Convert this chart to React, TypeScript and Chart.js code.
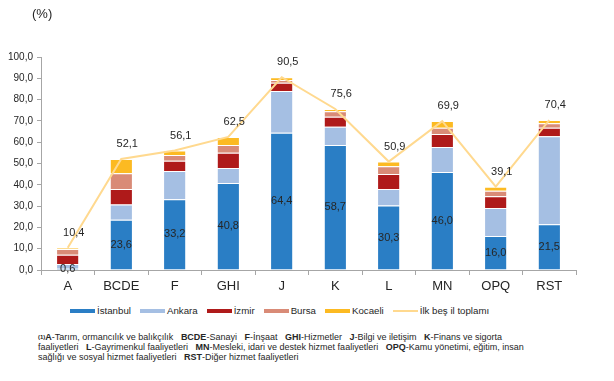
import React, { useEffect, useRef } from "react";
import { Chart, registerables } from "chart.js";

Chart.register(...registerables);

const categories = ["A", "BCDE", "F", "GHI", "J", "K", "L", "MN", "OPQ", "RST"];
const istanbul = [0.6, 23.6, 33.2, 40.8, 64.4, 58.7, 30.3, 46.0, 16.0, 21.5];
const ankara = [2.2, 7.2, 13.3, 7.1, 19.6, 8.6, 7.7, 11.8, 13.1, 41.3];
const izmir = [4.4, 7.2, 4.8, 7.2, 3.9, 4.7, 7.1, 6.0, 5.5, 4.0];
const bursa = [2.7, 7.4, 2.7, 3.6, 1.3, 2.5, 3.6, 3.0, 2.6, 2.1];
const kocaeli = [0.5, 6.7, 2.1, 3.8, 1.3, 1.1, 2.2, 3.1, 1.9, 1.5];
const totals = [10.4, 52.1, 56.1, 62.5, 90.5, 75.6, 50.9, 69.9, 39.1, 70.4];

const seriesNames = ["İstanbul", "Ankara", "İzmir", "Bursa", "Kocaeli", "İlk beş il toplamı"];
const colors = ["#2A7EC5", "#A5BFE3", "#AF1A1A", "#D98B77", "#FCBA22", "#FFD98F"];

const fmt = (v: number) => v.toFixed(1).replace(".", ",");
const FONT = "'Liberation Sans', Arial, sans-serif";

const labelPlugin = {
  id: "labelPlugin",
  afterDatasetsDraw(chart: any) {
    const ctx = chart.ctx;
    ctx.save();
    ctx.font = `11px ${FONT}`;
    ctx.fillStyle = "#262626";
    ctx.textAlign = "center";
    ctx.textBaseline = "middle";
    const m0 = chart.getDatasetMeta(0);
    m0.data.forEach((el: any, i: number) => {
      ctx.fillText(fmt(istanbul[i]), el.x, (el.y + el.base) / 2);
    });
    const m5 = chart.getDatasetMeta(5);
    m5.data.forEach((pt: any, i: number) => {
      ctx.fillText(fmt(totals[i]), pt.x + 6, pt.y - 15);
    });
    ctx.restore();
  },
};

export default function App() {
  const ref = useRef<HTMLCanvasElement | null>(null);
  useEffect(() => {
    if (!ref.current) return;
    const barSets = [istanbul, ankara, izmir, bursa, kocaeli].map((d, i) => ({
      type: "bar" as const,
      label: seriesNames[i],
      data: d,
      backgroundColor: colors[i],
      borderColor: "rgba(255,255,255,0.55)",
      borderWidth: { top: 1, left: 0, right: 0, bottom: 0 },
      borderSkipped: false,
      stack: "s",
      order: 1,
      barPercentage: 0.8,
      categoryPercentage: 0.5,
    }));
    const chart = new Chart(ref.current, {
      type: "bar",
      data: {
        labels: categories,
        datasets: [
          ...barSets,
          {
            type: "line" as const,
            label: seriesNames[5],
            data: totals,
            borderColor: colors[5],
            backgroundColor: colors[5],
            borderWidth: 2,
            pointRadius: 0,
            tension: 0,
            order: 0,
          } as any,
        ],
      },
      options: {
        responsive: false,
        animation: false,
        layout: { padding: { top: 57, right: 38, left: 0, bottom: 0 } },
        plugins: { legend: { display: false }, tooltip: { enabled: false } },
        scales: {
          x: {
            stacked: true,
            grid: { drawOnChartArea: false, tickLength: 5, color: "#A6A6A6", offset: true },
            border: { color: "#A6A6A6" },
            ticks: { font: { size: 13, family: FONT }, color: "#262626", padding: 4 },
            afterFit: (s: any) => { s.height = 30; },
          },
          y: {
            stacked: true,
            min: 0,
            max: 100,
            grid: { drawOnChartArea: false, tickLength: 4, color: "#A6A6A6" },
            border: { color: "#A6A6A6" },
            ticks: {
              stepSize: 10,
              font: { size: 10, family: FONT },
              color: "#262626",
              padding: 4,
              callback: (v: any) => fmt(Number(v)),
            },
            afterFit: (s: any) => { s.width = 41; },
          },
        },
      },
      plugins: [labelPlugin],
    } as any);
    return () => chart.destroy();
  }, []);

  const legendItem = (i: number) => (
    <span key={i} style={{ display: "inline-flex", alignItems: "center", marginRight: 9 }}>
      <span style={{ display: "inline-block", width: 25, height: i === 5 ? 2.5 : 3.5, background: colors[i], marginRight: 2 }} />
      <span>{seriesNames[i]}</span>
    </span>
  );

  const b = (t: string) => <b>{t}</b>;

  return (
    <div style={{ position: "absolute", left: 0, top: 0, width: 614, height: 381, background: "#fff", fontFamily: FONT, color: "#262626" }}>
      <canvas ref={ref} width={614} height={300} style={{ position: "absolute", left: 0, top: 0 }} />
      <div style={{ position: "absolute", left: 32, top: 6, fontSize: 13 }}>(%)</div>
      <div style={{ position: "absolute", left: 70, top: 305, fontSize: 9.7, lineHeight: "12px", whiteSpace: "nowrap", display: "flex" }}>
        {[0, 1, 2, 3, 4, 5].map(legendItem)}
      </div>
      <div style={{ position: "absolute", left: 38, top: 332, fontSize: 9, lineHeight: "10.2px", whiteSpace: "nowrap" }}>
        <div>
          <b style={{ fontSize: 6, verticalAlign: "top" }}>(1)</b>{b("A")}-Tarım, ormancılık ve balıkçılık&nbsp;&nbsp;&nbsp;{b("BCDE")}-Sanayi&nbsp;&nbsp;&nbsp;{b("F")}-İnşaat&nbsp;&nbsp;&nbsp;{b("GHI")}-Hizmetler&nbsp;&nbsp;&nbsp;{b("J")}-Bilgi ve iletişim&nbsp;&nbsp;&nbsp;{b("K")}-Finans ve sigorta
        </div>
        <div>
          faaliyetleri&nbsp;&nbsp;&nbsp;{b("L")}-Gayrimenkul faaliyetleri&nbsp;&nbsp;&nbsp;{b("MN")}-Mesleki, idari ve destek hizmet faaliyetleri&nbsp;&nbsp;&nbsp;{b("OPQ")}-Kamu yönetimi, eğitim, insan
        </div>
        <div>
          sağlığı ve sosyal hizmet faaliyetleri&nbsp;&nbsp;&nbsp;{b("RST")}-Diğer hizmet faaliyetleri
        </div>
      </div>
    </div>
  );
}
